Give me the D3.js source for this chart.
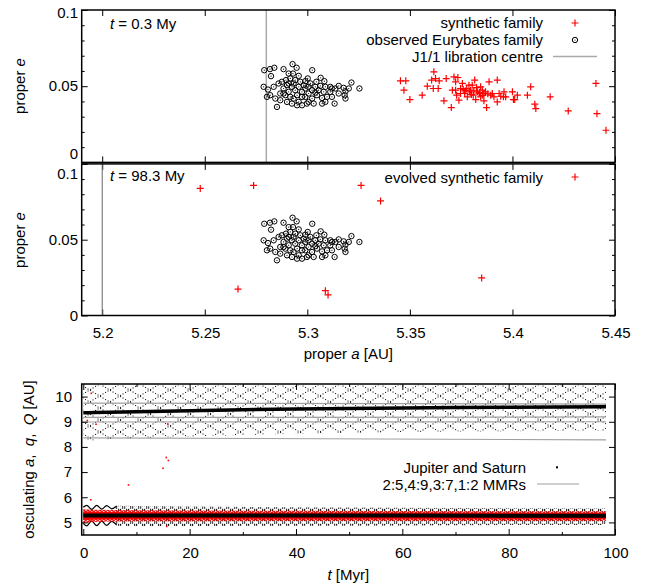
<!DOCTYPE html>
<html><head><meta charset="utf-8">
<script src="https://cdn.jsdelivr.net/npm/d3@7"></script>
<style>
body{margin:0;background:#fff}
text{font-family:"Liberation Sans",Arial,Helvetica,sans-serif;font-size:15px;fill:#000;white-space:pre}
</style>
</head><body>
<svg id="c" width="648" height="584" xmlns="http://www.w3.org/2000/svg"></svg>
<script>
// ---------------- DATA ----------------
// observed Eurybates family [proper a, proper e]
const obsFamily = [
[5.2790,0.0605],[5.2818,0.0612],[5.2839,0.0621],[5.2884,0.0612],[5.2928,0.0645],[5.2948,0.0621],[5.3024,0.0605],
[5.2823,0.0566],[5.2909,0.0583],[5.2930,0.0583],[5.2958,0.0568],[5.3002,0.0551],[5.3065,0.0555],[5.3044,0.0529],[5.3083,0.0533],
[5.2787,0.0496],[5.2808,0.0478],[5.2836,0.0496],[5.2860,0.0518],[5.2876,0.0529],[5.2896,0.0540],[5.2917,0.0551],[5.2941,0.0540],
[5.2966,0.0529],[5.2990,0.0533],[5.3015,0.0518],[5.3039,0.0496],[5.3063,0.0502],[5.3088,0.0496],[5.3112,0.0496],[5.3137,0.0485],
[5.3153,0.0502],[5.3177,0.0489],[5.3202,0.0485],[5.3215,0.0524],[5.3254,0.0485],
[5.2803,0.0430],[5.2819,0.0441],[5.2844,0.0419],[5.2852,0.0364],[5.2868,0.0452],[5.2893,0.0441],[5.2909,0.0463],[5.2933,0.0419],
[5.2958,0.0397],[5.2974,0.0375],[5.2998,0.0386],[5.3023,0.0419],[5.3047,0.0441],[5.3072,0.0423],[5.3088,0.0397],[5.3112,0.0463],
[5.3133,0.0386],[5.3153,0.0452],[5.3182,0.0441],[5.3186,0.0419],
[5.2884,0.0485],[5.2901,0.0507],[5.2925,0.0496],[5.2941,0.0474],[5.2958,0.0496],[5.2974,0.0463],[5.2990,0.0485],[5.3006,0.0452],
[5.3023,0.0474],[5.3039,0.0458],[5.3055,0.0474],[5.3080,0.0463],
[5.2868,0.0408],[5.2901,0.0397],[5.2925,0.0386],[5.2950,0.0375],[5.2990,0.0430],[5.3006,0.0397],[5.3031,0.0386],[5.3072,0.0386],
[5.3096,0.0430],[5.3120,0.0430],
[5.2909,0.0518],[5.2933,0.0518],[5.2982,0.0507],[5.3006,0.0496],[5.2950,0.0441],[5.2974,0.0430],[5.2917,0.0430],[5.2884,0.0452],
[5.3120,0.0485],[5.3186,0.0467]
];
// synthetic family at t = 0.3 My
const synFamily = [
[5.3454,0.0535],[5.3480,0.0535],[5.3471,0.0474],[5.3500,0.0412],[5.3560,0.0441],[5.3585,0.0500],[5.3606,0.0540],[5.3617,0.0594],
[5.3625,0.0550],[5.3614,0.0485],[5.3643,0.0535],[5.3638,0.0485],[5.3666,0.0404],[5.3677,0.0550],[5.3702,0.0360],[5.3707,0.0474],
[5.3715,0.0561],[5.3723,0.0529],[5.3734,0.0557],[5.3728,0.0441],[5.3739,0.0408],[5.3756,0.0518],[5.3760,0.0478],[5.3767,0.0452],
[5.3777,0.0485],[5.3788,0.0507],[5.3796,0.0474],[5.3804,0.0507],[5.3816,0.0540],[5.3809,0.0441],[5.3821,0.0412],[5.3829,0.0463],
[5.3837,0.0452],[5.3845,0.0430],[5.3853,0.0474],[5.3861,0.0452],[5.3869,0.0463],[5.3874,0.0360],[5.3886,0.0529],[5.3894,0.0441],
[5.3902,0.0452],[5.3910,0.0430],[5.3926,0.0540],[5.3926,0.0397],[5.3935,0.0452],[5.3943,0.0434],[5.3956,0.0430],[5.3959,0.0463],
[5.3967,0.0430],[5.4000,0.0463],[5.4005,0.0412],[5.4011,0.0412],[5.4024,0.0441],[5.4073,0.0441],[5.4089,0.0496],[5.4109,0.0382],
[5.4114,0.0353],[5.4184,0.0430],[5.4272,0.0338],[5.4407,0.0518],[5.4412,0.0320],[5.4456,0.0211],[5.3747,0.0485],[5.3780,0.0430],
[5.3825,0.0491],[5.3845,0.0496],[5.3861,0.0404],[5.3747,0.0452],[5.3723,0.0474],[5.3790,0.0463],[5.3812,0.0470],[5.3840,0.0458],
[5.3770,0.0470],[5.3800,0.0445],[5.3855,0.0440],[5.3880,0.0450]
];
// evolved synthetic family at t = 98.3 My
const evoFamily = [
[5.2478,0.0838],[5.2738,0.0858],[5.2662,0.0174],[5.3088,0.0164],[5.3101,0.0136],[5.3262,0.0858],[5.3357,0.0756],[5.3850,0.0248]
];
const libCentre1 = 5.28;   // J1/1 libration centre at 0.3 My
const libCentre2 = 5.20;   // at 98.3 My
const aTicks = [5.2,5.25,5.3,5.35,5.4,5.45];
const eTicks = [0,0.05,0.1];
const eMinor = [0.01,0.02,0.03,0.04,0.06,0.07,0.08,0.09];

// bottom panel: Saturn
const satT     = [0,   1,    2,    5,    10,   20,   30,   40,   50,   60,   70,   80,   90,   98.3];
const satA     = [9.36,9.36, 9.37, 9.38, 9.40, 9.44, 9.48, 9.51, 9.53, 9.55, 9.57, 9.58, 9.59, 9.60];
const satUpper = [10.40,10.45,10.46,10.46,10.46,10.46,10.46,10.46,10.47,10.47,10.47,10.47,10.47,10.47];
const satLower = [8.32,8.22, 8.26, 8.30, 8.34, 8.40, 8.47, 8.52, 8.56, 8.59, 8.61, 8.62, 8.63, 8.64];
// Jupiter
const jupT     = [0,    20,   40,   60,   80,   98.3];
const jupA     = [5.27, 5.27, 5.27, 5.27, 5.26, 5.26];
const jupBandT = [6,    10,   20,   40,   60,   80,   98.3];
const jupUpper = [5.66, 5.65, 5.63, 5.60, 5.58, 5.56, 5.55];
const jupLower = [4.87, 4.86, 4.86, 4.87, 4.88, 4.90, 4.90];
const jupWaveT = [0,    0.64, 1.58, 2.52, 3.46, 4.4,  5.34, 6.28];
const jupWaveQ = [5.60, 5.68, 5.52, 5.68, 5.53, 5.67, 5.54, 5.65];
const jupWaveq = [4.96, 4.86, 5.06, 4.87, 5.05, 4.88, 5.04, 4.89];
// synthetic family osculating a
const redT       = [0,    2,    5,    10,   20,   40,   60,   80,   98.3];
const redCoreHi  = [5.44, 5.42, 5.41, 5.40, 5.39, 5.38, 5.38, 5.37, 5.37];
const redCoreLo  = [5.10, 5.12, 5.13, 5.14, 5.15, 5.15, 5.15, 5.15, 5.15];
const redOuterHi = [5.52, 5.50, 5.49, 5.48, 5.47, 5.46, 5.45, 5.44, 5.44];
const redOuterLo = [4.98, 5.02, 5.04, 5.05, 5.05, 5.06, 5.06, 5.06, 5.06];
const redEscapes = [[1.5,10.13],[0.75,9.05],[2.4,8.90],[15.9,8.91],[1.4,5.90],[8.5,6.49],[15.0,7.15],[15.6,7.58],[16.0,7.46],[15.7,4.84]];
// mean-motion resonances 2:5, 3:7, 4:9, 1:2
const mmrT = [0, 98.3];
const mmrLines = [[9.74,9.70],[9.17,9.19],[8.99,9.00],[8.36,8.28]];
const tTicks = [0,20,40,60,80,100];
const tMinor = [10,30,50,70,90];
const aqTicks = [5,6,7,8,9,10];

// ---------------- DRAW ----------------
const svg = d3.select('#c');
const L = 81.7, R = 615;
const x1 = d3.scaleLinear([5.19,5.45],[L,R]);
const y1 = d3.scaleLinear([0,0.1],[162.4,10]);
const y2 = d3.scaleLinear([0,0.1],[315.5,163.9]);
const xb = d3.scaleLinear([-0.3,100],[L,R]);
const yb = d3.scaleLinear([4.5,10.5],[535,384]);

const defs = svg.append('defs');
function xPattern(id, w, h, n, r, color, op){
  const p = defs.append('pattern').attr('id',id).attr('patternUnits','userSpaceOnUse')
    .attr('width',w).attr('height',h);
  for(let i=0;i<n;i++){
    const fx=i*w/n, fy=i*h/n;
    p.append('rect').attr('x',fx).attr('y',fy).attr('width',r).attr('height',r).attr('fill',color).attr('opacity',op);
    p.append('rect').attr('x',fx).attr('y',h-fy-r).attr('width',r).attr('height',r).attr('fill',color).attr('opacity',op);
  }
}
xPattern('satPat',20,12,8,1.1,'#000',0.85);
xPattern('jupPat',8,5,4,1.2,'#000',0.9);
xPattern('redPat',4,3,3,1.3,'#ff0000',1);

function plus(g, cx, cy, col){
  g.append('path').attr('d',`M${cx-3.5},${cy}H${cx+3.5}M${cx},${cy-3.5}V${cy+3.5}`)
   .attr('stroke',col||'#ff0000').attr('stroke-width',1.2).attr('fill','none');
}
function ring(g, cx, cy){
  g.append('circle').attr('cx',cx).attr('cy',cy).attr('r',2.7).attr('fill','none').attr('stroke','#000').attr('stroke-width',1);
  g.append('circle').attr('cx',cx).attr('cy',cy).attr('r',0.6).attr('fill','#000');
}
function ticks(g, xs, ys, xT, xMin, yT, yMin, top, bottom){
  const tg = g.append('g');
  const add = (sel)=>{ sel.select('.domain').remove(); sel.selectAll('line').attr('stroke','#000').attr('stroke-width',1); sel.selectAll('text').remove(); };
  tg.append('g').attr('transform',`translate(0,${bottom})`).call(d3.axisBottom(xs).tickValues(xT).tickSize(-6)).call(add);
  tg.append('g').attr('transform',`translate(0,${top})`).call(d3.axisTop(xs).tickValues(xT).tickSize(-6)).call(add);
  if(xMin){
    tg.append('g').attr('transform',`translate(0,${bottom})`).call(d3.axisBottom(xs).tickValues(xMin).tickSize(-3)).call(add);
    tg.append('g').attr('transform',`translate(0,${top})`).call(d3.axisTop(xs).tickValues(xMin).tickSize(-3)).call(add);
  }
  tg.append('g').attr('transform',`translate(${L},0)`).call(d3.axisLeft(ys).tickValues(yT).tickSize(-6)).call(add);
  tg.append('g').attr('transform',`translate(${R},0)`).call(d3.axisRight(ys).tickValues(yT).tickSize(-6)).call(add);
  if(yMin){
    tg.append('g').attr('transform',`translate(${L},0)`).call(d3.axisLeft(ys).tickValues(yMin).tickSize(-3)).call(add);
    tg.append('g').attr('transform',`translate(${R},0)`).call(d3.axisRight(ys).tickValues(yMin).tickSize(-3)).call(add);
  }
}
function frame(top,bottom){
  svg.append('rect').attr('x',L).attr('y',top).attr('width',R-L).attr('height',bottom-top)
    .attr('fill','none').attr('stroke','#000').attr('stroke-width',1.5);
}

// ---- Panel 1 ----
const p1 = svg.append('g');
ticks(p1, x1, y1, aTicks, null, eTicks, eMinor, y1(0.1), y1(0));
p1.append('line').attr('x1',x1(libCentre1)).attr('x2',x1(libCentre1)).attr('y1',y1(0.1)).attr('y2',y1(0))
  .attr('stroke','#aaaaaa').attr('stroke-width',1.5);
obsFamily.forEach(d=>ring(p1, x1(d[0]), y1(d[1])));
synFamily.forEach(d=>plus(p1, x1(d[0]), y1(d[1])));
frame(y1(0.1), y1(0));
// labels
const t1 = p1.append('text').attr('x',110).attr('y',29);
t1.append('tspan').attr('font-style','italic').text('t');
t1.append('tspan').text(' = 0.3 My');
p1.append('text').attr('x',543).attr('y',28).attr('text-anchor','end').text('synthetic family');
p1.append('text').attr('x',543).attr('y',45).attr('text-anchor','end').text('observed Eurybates family');
p1.append('text').attr('x',543).attr('y',62).attr('text-anchor','end').text('J1/1 libration centre');
plus(p1, 575, 23);
ring(p1, 575, 40);
p1.append('line').attr('x1',553).attr('x2',597).attr('y1',56.5).attr('y2',56.5).attr('stroke','#aaaaaa').attr('stroke-width',1.5);
[['0.1',17.6],['0.05',91.3],['0',159.3]].forEach(d=>
  p1.append('text').attr('x',78).attr('y',d[1]).attr('text-anchor','end').text(d[0]));
const yl1 = p1.append('text').attr('transform',`translate(25,86) rotate(-90)`).attr('text-anchor','middle');
yl1.append('tspan').text('proper ');
yl1.append('tspan').attr('font-style','italic').text('e');

// ---- Panel 2 ----
const p2 = svg.append('g');
ticks(p2, x1, y2, aTicks, null, eTicks, eMinor, y2(0.1), y2(0));
p2.append('line').attr('x1',x1(libCentre2)).attr('x2',x1(libCentre2)).attr('y1',y2(0.1)).attr('y2',y2(0))
  .attr('stroke','#666666').attr('stroke-width',1);
obsFamily.forEach(d=>ring(p2, x1(d[0]), y2(d[1])));
evoFamily.forEach(d=>plus(p2, x1(d[0]), y2(d[1])));
frame(y2(0.1), y2(0));
const t2 = p2.append('text').attr('x',110).attr('y',181);
t2.append('tspan').attr('font-style','italic').text('t');
t2.append('tspan').text(' = 98.3 My');
p2.append('text').attr('x',543).attr('y',182.5).attr('text-anchor','end').text('evolved synthetic family');
plus(p2, 575, 177);
[['0.1',178.6],['0.05',245.3],['0',321]].forEach(d=>
  p2.append('text').attr('x',78).attr('y',d[1]).attr('text-anchor','end').text(d[0]));
aTicks.forEach(v=>p2.append('text').attr('x',x1(v)+1).attr('y',337.6).attr('text-anchor','middle').text(String(v)));
const yl2 = p2.append('text').attr('transform',`translate(25,240) rotate(-90)`).attr('text-anchor','middle');
yl2.append('tspan').text('proper ');
yl2.append('tspan').attr('font-style','italic').text('e');
const xl2 = p2.append('text').attr('x',(L+R)/2).attr('y',359).attr('text-anchor','middle');
xl2.append('tspan').text('proper ');
xl2.append('tspan').attr('font-style','italic').text('a');
xl2.append('tspan').text(' [AU]');

// ---- Panel 3 ----
const p3 = svg.append('g');
const area = (T,lo,hi)=>d3.area().x((d,i)=>xb(T[i])).y0((d,i)=>yb(lo[i])).y1((d,i)=>yb(hi[i]))(T);
const line = (T,V)=>d3.line().x((d,i)=>xb(T[i])).y((d,i)=>yb(V[i]))(T);
// Saturn q..Q band
p3.append('path').attr('d',area(satT,satLower,satUpper)).attr('fill','url(#satPat)');
// MMR lines
mmrLines.forEach(v=>p3.append('path').attr('d',line(mmrT,v)).attr('stroke','#a0a0a0').attr('stroke-width',1.2).attr('fill','none'));
// Saturn a
p3.append('path').attr('d',line(satT,satA)).attr('stroke','#000').attr('stroke-width',3.5).attr('fill','none');
// Jupiter q..Q
p3.append('path').attr('d',area(jupBandT,jupLower,jupUpper)).attr('fill','url(#jupPat)');
const wave = (T,V)=>d3.line().curve(d3.curveMonotoneX).x((d,i)=>xb(T[i])).y((d,i)=>yb(V[i]))(T);
p3.append('path').attr('d',wave(jupWaveT,jupWaveQ)).attr('stroke','#000').attr('stroke-width',1.2).attr('fill','none');
p3.append('path').attr('d',wave(jupWaveT,jupWaveq)).attr('stroke','#000').attr('stroke-width',1.2).attr('fill','none');
// synthetic family a
p3.append('path').attr('d',area(redT,redOuterLo,redOuterHi)).attr('fill','url(#redPat)');
p3.append('path').attr('d',area(redT,redCoreLo,redCoreHi)).attr('fill','#ff0000');
// Jupiter a
p3.append('path').attr('d',line(jupT,jupA)).attr('stroke','#000').attr('stroke-width',4).attr('fill','none');
redEscapes.forEach(d=>p3.append('rect').attr('x',xb(d[0])-0.8).attr('y',yb(d[1])-0.8).attr('width',1.6).attr('height',1.6).attr('fill','#ff0000'));
ticks(p3, xb, yb, tTicks, tMinor, aqTicks, null, yb(10.5), yb(4.5));
frame(yb(10.5), yb(4.5));
// legend
p3.append('text').attr('x',526).attr('y',472.5).attr('text-anchor','end').text('Jupiter and Saturn');
p3.append('text').attr('x',526).attr('y',489.5).attr('text-anchor','end').text('2:5,4:9,3:7,1:2 MMRs');
p3.append('rect').attr('x',556).attr('y',466.3).attr('width',2).attr('height',2).attr('fill','#000');
p3.append('line').attr('x1',537).attr('x2',579).attr('y1',484).attr('y2',484).attr('stroke','#a0a0a0').attr('stroke-width',1.2);
aqTicks.forEach(v=>p3.append('text').attr('x',72).attr('y',yb(v)+5.3).attr('text-anchor','end').text(String(v)));
tTicks.forEach(v=>p3.append('text').attr('x',xb(v)+1).attr('y',558).attr('text-anchor','middle').text(String(v)));
const yl3 = p3.append('text').attr('transform',`translate(34,459.5) rotate(-90)`).attr('text-anchor','middle');
yl3.append('tspan').text('osculating ');
yl3.append('tspan').attr('font-style','italic').text('a');
yl3.append('tspan').text(',  ');
yl3.append('tspan').attr('font-style','italic').text('q');
yl3.append('tspan').text(',  ');
yl3.append('tspan').attr('font-style','italic').text('Q');
yl3.append('tspan').text(' [AU]');
const xl3 = p3.append('text').attr('x',(L+R)/2).attr('y',580).attr('text-anchor','middle');
xl3.append('tspan').attr('font-style','italic').text('t');
xl3.append('tspan').text(' [Myr]');
</script>
</body></html>
